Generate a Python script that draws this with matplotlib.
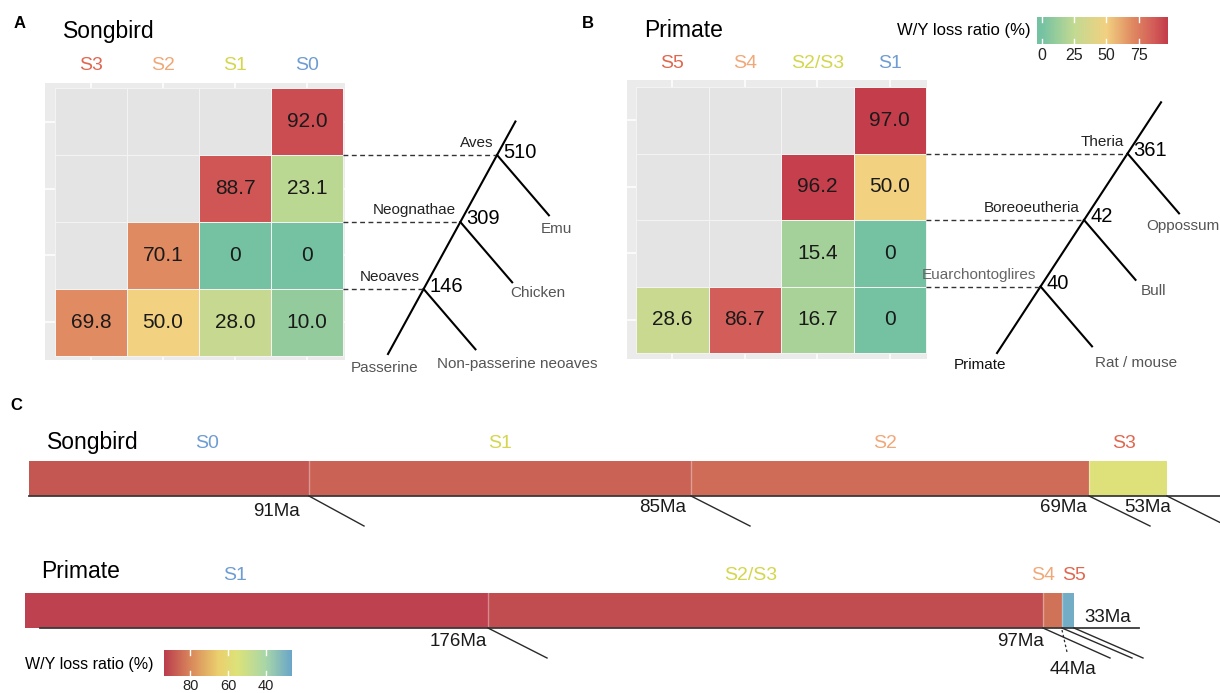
import numpy as np
import matplotlib
matplotlib.use("Agg")
import matplotlib.pyplot as plt
from matplotlib.colors import LinearSegmentedColormap, Normalize

plt.rcParams['font.family'] = ['Liberation Sans', 'DejaVu Sans']

W, H = 1220, 693
nan = np.nan

# ---------------- data ----------------
# A: songbird strata vs. clades (W/Y loss ratio, %)
bird_strata = ["S3", "S2", "S1", "S0"]
bird_ratio = [[nan, nan, nan, 92.0],
              [nan, nan, 88.7, 23.1],
              [nan, 70.1, 0, 0],
              [69.8, 50.0, 28.0, 10.0]]
bird_clades = ["Aves", "Neognathae", "Neoaves"]
bird_genes = [510, 309, 146]
bird_outgroups = ["Emu", "Chicken", "Non-passerine neoaves"]
bird_ingroup = "Passerine"

# B: primate
primate_strata = ["S5", "S4", "S2/S3", "S1"]
primate_ratio = [[nan, nan, nan, 97.0],
                 [nan, nan, 96.2, 50.0],
                 [nan, nan, 15.4, 0],
                 [28.6, 86.7, 16.7, 0]]
primate_clades = ["Theria", "Boreoeutheria", "Euarchontoglires"]
primate_genes = [361, 42, 40]
primate_outgroups = ["Oppossum", "Bull", "Rat / mouse"]
primate_ingroup = "Primate"

# C: strata along the sex chromosome (relative length), loss ratio, age (Ma)
bird_bar_strata = ["S0", "S1", "S2", "S3"]
bird_bar_len = [280, 382, 398, 78]
bird_bar_ratio = [89, 87, 85, 56]
bird_bar_age = [91, 85, 69, 53]
primate_bar_strata = ["S1", "S2/S3", "S4", "S5"]
primate_bar_len = [463, 555, 19, 12]
primate_bar_ratio = [93, 91, 84, 28]
primate_bar_age = [176, 97, 44, 33]

# colours of the stratum names, youngest -> oldest
strata_colors = ["#E06850", "#F0A878", "#D4D64E", "#6F9CD2"]

heat_norm = Normalize(0, 97)
heat_cmap = LinearSegmentedColormap.from_list("wy", [
    (0, "#75C2A3"), (25 / 97, "#C2DA92"), (50 / 97, "#F2D181"),
    (70 / 97, "#E08B62"), (87 / 97, "#D35C58"), (1, "#C43D4B")])
heat_cmap.set_bad("#E4E4E4")

bar_norm = Normalize(26, 94)
bar_cmap = LinearSegmentedColormap.from_list("wy2", [
    (0, "#6AA6C9"), (14 / 68, "#A9D7A8"), (29 / 68, "#DDE27A"),
    (39 / 68, "#EBD06E"), (54 / 68, "#D9885C"), (1, "#BB3D4E")])

fig = plt.figure(figsize=(W / 100, H / 100), dpi=100)


def px_axes(x0, y0, x1, y1):
    return fig.add_axes([x0 / W, 1 - y1 / H, (x1 - x0) / W, (y1 - y0) / H])


def heat_panel(box, grey, cell0, cell, ratio, strata, label_base, clades, clade_colors,
               genes, outgroups, ingroup, ingroup_color, tree, tips):
    x0, y0, x1, y1 = box
    cx, cy = cell0
    cw, ch = cell
    fx = lambda p: (p - cx) / cw - 0.5
    fy = lambda p: (p - cy) / ch - 0.5
    ax = px_axes(*box)
    ax.set_xlim(fx(x0), fx(x1))
    ax.set_ylim(fy(y1), fy(y0))
    ax.axis("off")

    gx0, gy0, gx1, gy1 = fx(grey[0]), fy(grey[1]), fx(grey[2]), fy(grey[3])
    ax.add_patch(plt.Rectangle((gx0, gy0), gx1 - gx0, gy1 - gy0, color="#EBEBEB", lw=0, zorder=0))
    n = len(strata)
    for k in range(n):
        ax.plot([k, k], [gy0, gy1], color="white", lw=1.1, zorder=1)
        ax.plot([gx0, gx1], [k, k], color="white", lw=1.1, zorder=1)

    edges = np.arange(n + 1) - 0.5
    ax.pcolormesh(edges, edges, np.ma.masked_invalid(np.array(ratio)), cmap=heat_cmap,
                  norm=heat_norm, edgecolors="#F3F3F3", linewidth=0.7, zorder=2)
    for i in range(n):
        for j in range(n):
            v = ratio[i][j]
            if not np.isnan(v):
                ax.text(j, i, "0" if v == 0 else f"{v:.1f}", ha="center", va="center",
                        fontsize=15, color="#1A1A1A", zorder=3)
    for j, (s, c) in enumerate(zip(strata, strata_colors)):
        ax.text(j, fy(label_base), s, ha="center", va="baseline", fontsize=14, color=c)

    # species tree
    xb, yb, slope, ytop, bdx, bdy = tree
    bx = lambda y: xb + slope * (yb - y)
    ax.plot([bx(yb), bx(ytop)], [yb, ytop], color="black", lw=1.5)
    for k in range(len(clades)):
        y = k + 0.5
        nx = bx(y)
        ax.plot([n - 0.5, nx], [y, y], color="#333333", lw=1.0, ls=(0, (3.5, 2.5)))
        ax.plot([nx, nx + bdx], [y, y + bdy], color="black", lw=1.5)
        ax.annotate(clades[k], (nx, y), xytext=(-4, 12), textcoords="offset pixels",
                    ha="right", va="center", fontsize=11, color=clade_colors[k])
        ax.annotate(str(genes[k]), (nx, y), xytext=(6, 3), textcoords="offset pixels",
                    ha="left", va="center", fontsize=14.5)
        ax.annotate(outgroups[k], (nx + bdx, y + bdy), xytext=(tips[k][0], -tips[k][1]),
                    textcoords="offset pixels", ha="center", va="center",
                    fontsize=11, color="#555555")
    ax.annotate(ingroup, (bx(yb), yb), xytext=(tips[-1][0], -tips[-1][1]),
                textcoords="offset pixels", ha="center", va="center",
                fontsize=11, color=ingroup_color)
    return ax


# ---------------- A ----------------
heat_panel((45, 80, 610, 380), (45, 83, 345, 360), (55, 88), (72, 67),
           bird_ratio, bird_strata, 70, bird_clades, ["#222222"] * 3, bird_genes,
           bird_outgroups, bird_ingroup, "#555555",
           (4.125, 3.47, 0.51, 0.0, 0.72, 0.9),
           [(8, 14), (26, 11), (42, 15), (-3, 14)])

# ---------------- B ----------------
heat_panel((627, 78, 1220, 380), (627, 80, 927, 359), (636, 87), (72.5, 66.5),
           primate_ratio, primate_strata, 68, primate_clades,
           ["#222222", "#222222", "#666666"], primate_genes,
           primate_outgroups, primate_ingroup, "#111111",
           (4.48, 3.5, 0.6, -0.27, 0.71, 0.9),
           [(4, 13), (18, 11), (44, 17), (-17, 12)])

fig.text(20 / W, 1 - 24 / H, "A", ha="center", va="center", fontsize=12, fontweight="bold")
fig.text(588 / W, 1 - 24 / H, "B", ha="center", va="center", fontsize=12, fontweight="bold")
fig.text(16 / W, 1 - 406 / H, "C", ha="center", va="center", fontsize=12, fontweight="bold")
fig.text(63 / W, 1 - 38 / H, "Songbird", ha="left", va="baseline", fontsize=16.5)
fig.text(644 / W, 1 - 37 / H, "Primate", ha="left", va="baseline", fontsize=16.5)

# colour bar of A/B
cax = px_axes(1037, 17, 1168, 44)
grad = np.linspace(-3.5, 97.5, 300)
cax.imshow(grad[None, :], extent=(-3.5, 97.5, 0, 1), aspect="auto", cmap=heat_cmap, norm=heat_norm)
cax.set_xlim(-3.5, 97.5)
cax.set_ylim(0, 1)
for t in [0, 25, 50, 75]:
    cax.plot([t, t], [0, 0.2], color="white", lw=1)
    cax.plot([t, t], [0.8, 1], color="white", lw=1)
cax.set_yticks([])
cax.set_xticks([0, 25, 50, 75])
cax.tick_params(length=0, labelsize=11.5, pad=3, labelcolor="#222222")
for s in cax.spines.values():
    s.set_visible(False)
fig.text(1031 / W, 1 - 31 / H, "W/Y loss ratio (%)", ha="right", va="center", fontsize=12)

# ---------------- C ----------------
axc = px_axes(0, 390, W, H)
axc.set_xlim(0, W)
row_px = 132
axc.set_ylim((693 - 478.5) / row_px, (390 - 478.5) / row_px)
axc.axis("off")
bar_h = 35 / row_px
tick_dy = 30 / row_px


def strata_bar(r, start, lengths, ratios, strata, ages, base, label_dx, age_off, tick_dx):
    lefts = start + np.concatenate([[0], np.cumsum(lengths)[:-1]])
    rights = lefts + np.array(lengths)
    axc.barh(r, lengths, left=lefts, height=bar_h,
             color=bar_cmap(bar_norm(np.array(ratios))), lw=0)
    for b in rights[:-1]:
        axc.plot([b, b], [r - bar_h / 2, r + bar_h / 2], color="white", alpha=0.35, lw=1)
    yb = r + bar_h / 2
    axc.plot(base, [yb, yb], color="#3A3A3A", lw=1.3)
    for s, c, l, rr, dx in zip(strata, strata_colors[::-1], lefts, rights, label_dx):
        axc.annotate(s, ((l + rr) / 2, r - bar_h / 2), xytext=(dx, 17),
                     textcoords="offset pixels", ha="center", va="center", fontsize=14, color=c)
    for a, b, (ox, oy), tx in zip(ages, rights, age_off, tick_dx):
        axc.annotate(f"{a}Ma", (b, yb), xytext=(ox, -oy), textcoords="offset pixels",
                     ha="center", va="center", fontsize=13.5, color="#1A1A1A")
        axc.plot([b, b + tx], [yb, yb + tick_dy], color="#2A2A2A", lw=1.0, clip_on=False)
    return rights, yb


strata_bar(0, 29, bird_bar_len, bird_bar_ratio, bird_bar_strata, bird_bar_age,
           [29, W], [38, 0, -5, -4],
           [(-32, 15), (-28, 12), (-26, 12), (-19, 11)], [55, 59, 61, 60])
p_rights, p_yb = strata_bar(1, 25, primate_bar_len, primate_bar_ratio, primate_bar_strata,
                            primate_bar_age, [40, 1139], [-21, -15, -9, 6],
                            [(-30, 14), (-22, 14), (11, 41), (34, -11)], [59, 67, 70, 69])
# dashed leader for the 44Ma label
axc.plot([p_rights[2], p_rights[2] + 5], [p_yb + 2 / row_px, p_yb + 24 / row_px],
         color="#2A2A2A", lw=0.9, ls=(0, (2, 2)))

fig.text(47 / W, 1 - 449 / H, "Songbird", ha="left", va="baseline", fontsize=16.5)
fig.text(41 / W, 1 - 578 / H, "Primate", ha="left", va="baseline", fontsize=16.5)

# colour bar of C (reversed)
cax2 = px_axes(164, 650, 292, 676)
grad2 = np.linspace(26, 94, 300)
cax2.imshow(grad2[None, :], extent=(26, 94, 0, 1), aspect="auto", cmap=bar_cmap, norm=bar_norm)
cax2.set_xlim(94, 26)
cax2.set_ylim(0, 1)
for t in [80, 60, 40]:
    cax2.plot([t, t], [0, 0.2], color="white", lw=1)
    cax2.plot([t, t], [0.8, 1], color="white", lw=1)
cax2.set_yticks([])
cax2.set_xticks([80, 60, 40])
cax2.tick_params(length=0, labelsize=10.5, pad=2, labelcolor="#222222")
for s in cax2.spines.values():
    s.set_visible(False)
fig.text(25 / W, 1 - 664 / H, "W/Y loss ratio (%)", ha="left", va="center", fontsize=11.5)

fig.savefig("out.png", dpi=100)
